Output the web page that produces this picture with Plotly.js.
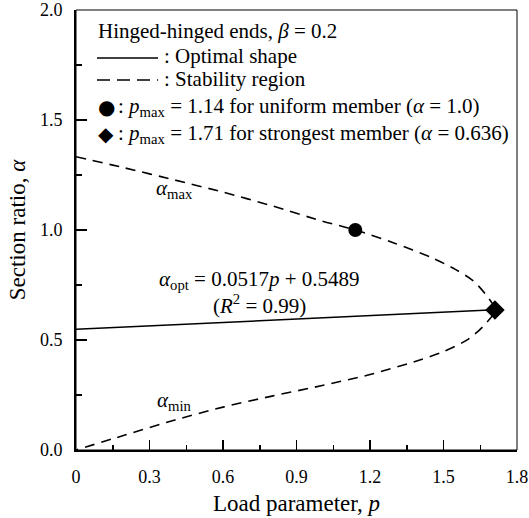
<!DOCTYPE html>
<html>
<head>
<meta charset="utf-8">
<script src="https://cdn.plot.ly/plotly-3.0.1.min.js"></script>
<style>html,body{margin:0;padding:0;background:#fff;}#chart{width:529px;height:518px;}</style>
</head>
<body>
<div id="chart"></div>
<script>
// Stability region: upper boundary (alpha_max), p from 0 to p_max
const pUpper = [0, 0.2, 0.4, 0.6, 0.8, 1.0, 1.14, 1.3, 1.45, 1.55, 1.62, 1.67, 1.71];
const alphaMax = [1.333, 1.282, 1.228, 1.172, 1.110, 1.042, 1.0, 0.94, 0.875, 0.82, 0.77, 0.71, 0.636];
// lower boundary (alpha_min), p from 0 to p_max
const pLower = [0, 0.2, 0.4, 0.6, 0.8, 1.0, 1.2, 1.4, 1.5, 1.6, 1.66, 1.71];
const alphaMin = [0.0, 0.068, 0.135, 0.195, 0.245, 0.292, 0.343, 0.408, 0.447, 0.503, 0.56, 0.636];
// Optimal shape line
const pOpt = [0, 1.71];
const alphaOpt = [0.549, 0.637];
// Special points
const pUniform = [1.14], alphaUniform = [1.0];
const pStrongest = [1.71], alphaStrongest = [0.636];
// Axis ticks
const xTicks = [0, 0.3, 0.6, 0.9, 1.2, 1.5, 1.8];
const xTickText = ['0', '0.3', '0.6', '0.9', '1.2', '1.5', '1.8'];
const yTicks = [0, 0.5, 1.0, 1.5, 2.0];
const yTickText = ['0.0', '0.5', '1.0', '1.5', '2.0'];

const FONT = 'Liberation Serif';

// closed stability boundary: upper forward, lower backward
const regionP = pUpper.concat(pLower.slice(0, -1).reverse());
const regionA = alphaMax.concat(alphaMin.slice(0, -1).reverse());

const traces = [
  {x: regionP, y: regionA, mode: 'lines', line: {color: '#000', width: 1.6, dash: '10px,7px', shape: 'spline', smoothing: 0.8}, hoverinfo: 'skip'},
  {x: pOpt, y: alphaOpt, mode: 'lines', line: {color: '#000', width: 1.5}, hoverinfo: 'skip'},
  {x: pUniform, y: alphaUniform, mode: 'markers', marker: {symbol: 'circle', size: 14, color: '#000'}},
  {x: pStrongest, y: alphaStrongest, mode: 'markers', marker: {symbol: 'diamond', size: 15, color: '#000'}, cliponaxis: false}
];

// paper-coordinate helpers for legend block (plot area: x 76..517, y 10..450)
const PX = px => (px - 76) / 441;
const PY = py => (450 - py) / 440;

const legendFont = {family: FONT, size: 21, color: '#000'};
const annotations = [
  {xref: 'paper', yref: 'paper', x: PX(96), y: PY(31), xanchor: 'left', yanchor: 'middle', showarrow: false, text: 'Hinged-hinged ends, <i>β</i> = 0.2', font: legendFont},
  {xref: 'paper', yref: 'paper', x: PX(162), y: PY(56), xanchor: 'left', yanchor: 'middle', showarrow: false, text: ': Optimal shape', font: legendFont},
  {xref: 'paper', yref: 'paper', x: PX(162), y: PY(79), xanchor: 'left', yanchor: 'middle', showarrow: false, text: ': Stability region', font: legendFont},
  {xref: 'paper', yref: 'paper', x: PX(106), y: PY(107), xanchor: 'center', yanchor: 'middle', showarrow: false, text: '●', font: {family: 'DejaVu Sans', size: 20, color: '#000'}},
  {xref: 'paper', yref: 'paper', x: PX(116), y: PY(107), xanchor: 'left', yanchor: 'middle', showarrow: false, text: ': <i>p</i><sub>max</sub> = 1.14 for uniform member (<i>α</i> = 1.0)', font: legendFont},
  {xref: 'paper', yref: 'paper', x: PX(106), y: PY(134), xanchor: 'center', yanchor: 'middle', showarrow: false, text: '◆', font: {family: 'DejaVu Sans', size: 20, color: '#000'}},
  {xref: 'paper', yref: 'paper', x: PX(116), y: PY(134), xanchor: 'left', yanchor: 'middle', showarrow: false, text: ': <i>p</i><sub>max</sub> = 1.71 for strongest member (<i>α</i> = 0.636)', font: legendFont},
  // curve labels
  {x: 0.404, y: 1.185, xanchor: 'center', yanchor: 'middle', showarrow: false, text: '<i>α</i><sub>max</sub>', font: legendFont},
  {x: 0.40, y: 0.222, xanchor: 'center', yanchor: 'middle', showarrow: false, text: '<i>α</i><sub>min</sub>', font: legendFont},
  {x: 0.747, y: 0.775, xanchor: 'center', yanchor: 'middle', showarrow: false, text: '<i>α</i><sub>opt</sub> = 0.0517<i>p</i> + 0.5489', font: legendFont},
  {x: 0.747, y: 0.66, xanchor: 'center', yanchor: 'middle', showarrow: false, text: '(<i>R</i><sup>2</sup> = 0.99)', font: legendFont}
];

const shapes = [
  {type: 'rect', xref: 'paper', yref: 'paper', x0: 0, x1: 1, y0: 0, y1: 1, line: {color: '#000', width: 1}},
  {type: 'line', xref: 'paper', yref: 'paper', x0: PX(97), x1: PX(158), y0: PY(58), y1: PY(58), line: {color: '#000', width: 1.5}},
  {type: 'line', xref: 'paper', yref: 'paper', x0: PX(97), x1: PX(158), y0: PY(80), y1: PY(80), line: {color: '#000', width: 1.6, dash: '13px,7px'}}
];

const layout = {
  width: 529, height: 518,
  margin: {l: 76, r: 12, t: 10, b: 68},
  paper_bgcolor: '#fff', plot_bgcolor: '#fff',
  showlegend: false,
  font: {family: FONT, size: 18, color: '#000'},
  xaxis: {
    range: [0, 1.8], tickvals: xTicks, ticktext: xTickText,
    showgrid: false, zeroline: false, showline: true, linecolor: '#000', linewidth: 2,
    ticks: 'inside', ticklen: 10, tickwidth: 1.5, tickcolor: '#000',
    minor: {dtick: 0.15, tick0: 0, ticks: 'inside', ticklen: 5, tickwidth: 1.5, tickcolor: '#000'},
    ticklabelstandoff: 9,
    tickfont: {family: FONT, size: 18},
    title: {text: 'Load parameter, <i>p</i>', font: {family: FONT, size: 23}, standoff: 9}
  },
  yaxis: {
    range: [0, 2.0], tickvals: yTicks, ticktext: yTickText,
    showgrid: false, zeroline: false, showline: true, linecolor: '#000', linewidth: 2,
    ticks: 'inside', ticklen: 11, tickwidth: 1.5, tickcolor: '#000',
    minor: {dtick: 0.25, tick0: 0, ticks: 'inside', ticklen: 6, tickwidth: 1.5, tickcolor: '#000'},
    ticklabelstandoff: 8,
    tickfont: {family: FONT, size: 18},
    title: {text: 'Section ratio, <i>α</i>', font: {family: FONT, size: 23}, standoff: 8}
  },
  annotations: annotations,
  shapes: shapes
};

Plotly.newPlot('chart', traces, layout, {staticPlot: true, displayModeBar: false});
</script>
</body>
</html>
